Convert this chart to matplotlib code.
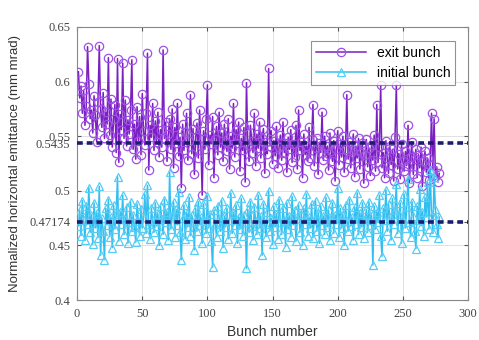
import matplotlib
matplotlib.use("Agg")
import matplotlib.pyplot as plt
import numpy as np

exit_bunch = [
    0.609, 0.585, 0.596, 0.571, 0.592, 0.560, 0.578, 0.632, 0.598, 0.566,
    0.574, 0.553, 0.587, 0.569, 0.545, 0.581, 0.633, 0.575, 0.558, 0.590,
    0.548, 0.572, 0.561, 0.622, 0.551, 0.584, 0.540, 0.566, 0.579, 0.535,
    0.621, 0.526, 0.570, 0.556, 0.617, 0.548, 0.583, 0.541, 0.565, 0.552,
    0.574, 0.620, 0.538, 0.561, 0.529, 0.577, 0.546, 0.568, 0.533, 0.589,
    0.555, 0.542, 0.571, 0.626, 0.519, 0.560, 0.549, 0.580, 0.537, 0.564,
    0.545, 0.572, 0.531, 0.556, 0.540, 0.629, 0.548, 0.563, 0.527, 0.552,
    0.566, 0.538, 0.575, 0.521, 0.558, 0.544, 0.580, 0.532, 0.549, 0.503,
    0.561, 0.537, 0.554, 0.571, 0.528, 0.546, 0.588, 0.534, 0.557, 0.515,
    0.549, 0.562, 0.530, 0.574, 0.541, 0.496, 0.555, 0.538, 0.566, 0.597,
    0.524, 0.551, 0.543, 0.568, 0.512, 0.547, 0.559, 0.533, 0.572, 0.540,
    0.553, 0.527, 0.561, 0.545, 0.536, 0.566, 0.520, 0.550, 0.539, 0.580,
    0.531, 0.556, 0.544, 0.563, 0.518, 0.548, 0.537, 0.558, 0.508, 0.599,
    0.542, 0.527, 0.560, 0.546, 0.535, 0.571, 0.523, 0.552, 0.539, 0.563,
    0.530, 0.548, 0.557, 0.516, 0.545, 0.534, 0.612, 0.541, 0.555, 0.525,
    0.546, 0.532, 0.559, 0.521, 0.540, 0.551, 0.528, 0.563, 0.535, 0.544,
    0.517, 0.549, 0.538, 0.556, 0.526, 0.543, 0.531, 0.560, 0.520, 0.574,
    0.537, 0.545, 0.512, 0.552, 0.533, 0.541, 0.527, 0.558, 0.530, 0.547,
    0.579, 0.523, 0.539, 0.548, 0.515, 0.544, 0.535, 0.572, 0.528, 0.550,
    0.532, 0.541, 0.519, 0.553, 0.536, 0.527, 0.546, 0.509, 0.538, 0.555,
    0.524, 0.543, 0.531, 0.550, 0.517, 0.538, 0.588, 0.529, 0.545, 0.521,
    0.537, 0.552, 0.513, 0.541, 0.530, 0.548, 0.520, 0.535, 0.544, 0.507,
    0.533, 0.547, 0.522, 0.539, 0.514, 0.542, 0.528, 0.551, 0.518, 0.579,
    0.526, 0.540, 0.597, 0.521, 0.535, 0.512, 0.546, 0.530, 0.516, 0.541,
    0.524, 0.538, 0.509, 0.549, 0.597, 0.520, 0.534, 0.511, 0.543, 0.527,
    0.518, 0.536, 0.523, 0.560, 0.507, 0.531, 0.545, 0.515, 0.529, 0.538,
    0.512, 0.533, 0.521, 0.540, 0.504, 0.527, 0.536, 0.517, 0.530, 0.510,
    0.524, 0.571, 0.519, 0.566, 0.513, 0.522, 0.508, 0.516,
]

initial_bunch = [
    0.468, 0.482, 0.459, 0.491, 0.473, 0.455, 0.486, 0.470, 0.503, 0.462,
    0.478, 0.451, 0.489, 0.466, 0.480, 0.457, 0.504, 0.441, 0.475, 0.463,
    0.437, 0.484, 0.469, 0.492, 0.458, 0.476, 0.448, 0.487, 0.465, 0.479,
    0.513, 0.454, 0.481, 0.470, 0.496, 0.460, 0.474, 0.485, 0.452, 0.471,
    0.490, 0.463, 0.478, 0.467, 0.453, 0.488, 0.472, 0.459, 0.483, 0.466,
    0.476, 0.497, 0.461, 0.505, 0.470, 0.456, 0.484, 0.473, 0.462, 0.489,
    0.468, 0.479, 0.450, 0.486, 0.474, 0.460, 0.492, 0.471, 0.481, 0.455,
    0.517, 0.465, 0.477, 0.490, 0.458, 0.483, 0.469, 0.499, 0.462, 0.437,
    0.475, 0.487, 0.456, 0.480, 0.467, 0.494, 0.459, 0.478, 0.471, 0.446,
    0.484, 0.463, 0.490, 0.469, 0.476, 0.452, 0.488, 0.472, 0.461, 0.495,
    0.466, 0.479, 0.454, 0.430, 0.482, 0.470, 0.458, 0.486, 0.474, 0.463,
    0.491, 0.448, 0.477, 0.467, 0.484, 0.456, 0.473, 0.498, 0.461, 0.480,
    0.469, 0.487, 0.452, 0.476, 0.465, 0.493, 0.459, 0.478, 0.471, 0.429,
    0.483, 0.462, 0.490, 0.468, 0.455, 0.485, 0.472, 0.460, 0.496, 0.466,
    0.477, 0.441, 0.488, 0.470, 0.458, 0.481, 0.500, 0.463, 0.475, 0.451,
    0.486, 0.467, 0.479, 0.456, 0.492, 0.471, 0.460, 0.484, 0.473, 0.449,
    0.489, 0.465, 0.477, 0.458, 0.495, 0.469, 0.482, 0.454, 0.474, 0.487,
    0.462, 0.479, 0.450, 0.484, 0.470, 0.497, 0.459, 0.476, 0.466, 0.488,
    0.457, 0.473, 0.491, 0.463, 0.480, 0.452, 0.486, 0.469, 0.477, 0.460,
    0.494, 0.467, 0.482, 0.455, 0.475, 0.489, 0.461, 0.478, 0.470, 0.503,
    0.458, 0.484, 0.466, 0.479, 0.450, 0.487, 0.472, 0.463, 0.492, 0.468,
    0.476, 0.455, 0.485, 0.470, 0.498, 0.460, 0.480, 0.467, 0.489, 0.457,
    0.474, 0.483, 0.462, 0.490, 0.469, 0.478, 0.432, 0.486, 0.465, 0.481,
    0.471, 0.496, 0.459, 0.440, 0.484, 0.473, 0.501, 0.463, 0.488, 0.476,
    0.455, 0.493, 0.470, 0.482, 0.506, 0.461, 0.479, 0.489, 0.452, 0.474,
    0.497, 0.466, 0.485, 0.511, 0.471, 0.458, 0.490, 0.477, 0.463, 0.447,
    0.486, 0.473, 0.502, 0.468, 0.481, 0.459, 0.494, 0.476, 0.508, 0.465,
    0.519, 0.478, 0.462, 0.513, 0.483, 0.470, 0.457, 0.476,
]

exit_mean = 0.5435
initial_mean = 0.47174

x_ticks = [0, 50, 100, 150, 200, 250, 300]
y_ticks = [0.4, 0.45, 0.47174, 0.5, 0.5435, 0.55, 0.6, 0.65]
y_tick_labels = ["0.4", "0.45", "0.47174", "0.5", "0.5435", "0.55", "0.6", "0.65"]
series_labels = ["exit bunch", "initial bunch"]

bunch = np.arange(1, len(exit_bunch) + 1)

fig = plt.figure(figsize=(4.79, 3.40), dpi=100)
ax = fig.add_axes([0.161, 0.1176, 0.816, 0.803])

purple_line = "#7a1fc0"
purple_mk = "#a050e6"
cyan = "#30bff0"
cyan_mk = "#55cdf5"

ax.plot(bunch, exit_bunch, "-", color=purple_line, lw=1.1, marker="o",
        ms=6, mfc="none", mec=purple_mk, mew=0.9, label=series_labels[0], zorder=3)
ax.plot(bunch, initial_bunch, "-", color=cyan, lw=1.1, marker="^",
        ms=6, mfc="none", mec=cyan_mk, mew=0.9, label=series_labels[1], zorder=3)

navy = "#1c1c70"
ax.axhline(exit_mean, color=navy, lw=2.6, ls=(0, (1.6, 1.1)), zorder=4)
ax.axhline(initial_mean, color=navy, lw=2.6, ls=(0, (1.6, 1.1)), zorder=4)

ax.set_xlim(0, 300)
ax.set_ylim(0.4, 0.65)
ax.set_xticks(x_ticks)
ax.set_yticks(y_ticks)
ax.set_yticklabels(y_tick_labels)
ax.grid(True, color="#dcdcdc", lw=0.6)
ax.set_axisbelow(True)
ax.tick_params(direction="in", length=3, colors="#555555", labelsize=9,
               top=True, right=True)
ax.tick_params(axis="x", pad=6)
ax.tick_params(axis="y", pad=5)
for lab in ax.get_xticklabels() + ax.get_yticklabels():
    lab.set_fontfamily("Liberation Serif")
    lab.set_color("#444444")
for sp in ax.spines.values():
    sp.set_color("#888888")
    sp.set_linewidth(0.8)

ax.set_xlabel("Bunch number", fontfamily="Liberation Sans", fontsize=10,
              color="#333333", labelpad=3)
ax.set_ylabel("Normalized horizontal emittance (mm mrad)", fontfamily="Liberation Sans",
              fontsize=9.5, color="#333333", labelpad=6)

leg = ax.legend(loc="upper right", frameon=True, fancybox=False,
                borderpad=0.35, handlelength=3.6, labelspacing=0.45,
                bbox_to_anchor=(0.985, 0.975),
                prop={"family": "Liberation Sans", "size": 10})
leg.get_frame().set_edgecolor("#777777")
leg.get_frame().set_linewidth(0.8)

fig.savefig("out.png", dpi=100)
